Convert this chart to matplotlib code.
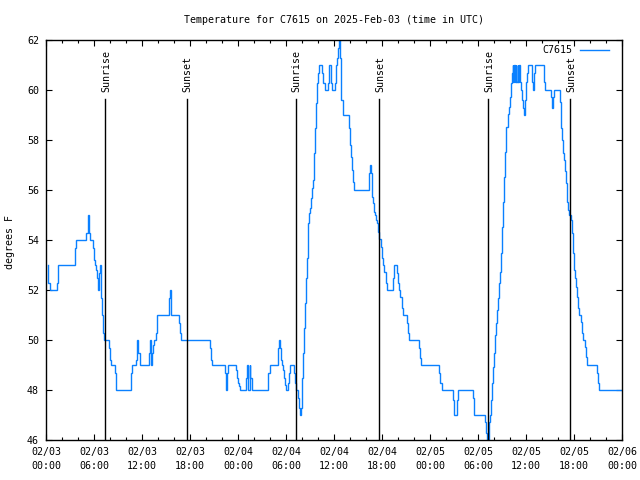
import matplotlib
matplotlib.use("Agg")
import matplotlib.pyplot as plt
from matplotlib.ticker import FixedLocator, MultipleLocator

# ---------------- data (hours since 2025-02-03 00:00 UTC, degrees F) ----------------
hours = [
    0.2, 0.3, 0.5, 1.35, 1.5, 3.6, 3.75, 5.04, 5.2, 5.3, 5.37, 5.43, 5.5, 5.9, 6.04, 6.12,
    6.25, 6.37, 6.46, 6.54, 6.62, 6.75, 6.82, 6.92, 7.05, 7.15, 7.25,
    7.85, 8.0, 8.08, 8.6, 8.7, 8.8,
    10.58, 10.7, 11.25, 11.4, 11.55, 11.7,
    12.875, 12.95, 13.1, 13.2, 13.35, 13.5, 13.7, 13.85,
    15.33, 15.42, 15.5, 15.58, 15.67,
    16.58, 16.7, 16.83,
    20.54, 20.62, 20.7,
    22.375, 22.45, 22.5, 22.58, 22.67, 22.75,
    23.8, 23.9, 24.0, 24.1, 24.25,
    25.0, 25.1, 25.2, 25.45, 25.55, 25.7,
    27.8, 27.95,
    29.04, 29.1, 29.3, 29.4, 29.5, 29.6, 29.7, 29.85, 30.0, 30.3, 30.4, 30.5, 31.0, 31.1, 31.25,
    31.54, 31.62, 31.7, 31.875, 31.95, 32.04, 32.125, 32.25, 32.375, 32.46, 32.58, 32.7, 32.79,
    32.92, 33.0, 33.125, 33.29, 33.42,
    33.54, 33.67, 33.79, 33.92, 34.04, 34.17, 34.54, 34.67, 34.83, 35.29, 35.42, 35.58, 35.67,
    35.75, 36.125, 36.21, 36.29, 36.42, 36.5, 36.58, 36.75, 36.83, 36.92, 37.17,
    37.875, 38.0, 38.125, 38.25, 38.4, 38.55,
    40.42, 40.5, 40.6, 40.7, 40.79, 40.92, 41.04, 41.17, 41.3, 41.42, 41.54, 41.67, 41.85, 42.0,
    42.1, 42.3, 42.45, 42.6,
    43.42, 43.55, 43.9, 44.0, 44.1, 44.3, 44.45, 44.55, 44.67,
    45.125, 45.25, 45.4,
    46.67, 46.8, 46.9,
    49.17, 49.3, 49.45,
    50.92, 51.05, 51.42, 51.55,
    53.42, 53.54,
    54.92, 55.0, 55.08, 55.33, 55.42, 55.5, 55.625, 55.75, 55.92, 56.04, 56.17, 56.29, 56.375,
    56.5, 56.62, 56.75, 56.875, 57.0, 57.125, 57.29, 57.42, 57.54, 57.71, 57.92, 58.04, 58.125,
    58.25, 58.33, 58.4, 58.54, 58.6, 58.75, 58.8, 58.96, 59.02, 59.17, 59.23, 59.375, 59.5,
    59.67, 59.79, 59.92, 60.0, 60.1, 60.29, 60.71, 60.8, 60.92, 61.0, 61.125, 62.2, 62.3, 62.42,
    63.125, 63.25, 63.4, 63.5, 64.25, 64.375, 64.5, 64.67, 64.79, 64.92, 65.04, 65.17, 65.29,
    65.42, 65.625, 65.79, 65.92, 66.04, 66.17, 66.29, 66.42, 66.54, 66.67, 66.875, 67.0, 67.17,
    67.375, 67.5, 67.625, 68.92, 69.0, 69.125, 71.9,
]
temps_f = [
    53, 52.3, 52, 52.3, 53, 53.7, 54, 54.3, 54.7, 55, 54.7, 54.3, 54, 53.7, 53.2, 53,
    52.8, 52.5, 52.2, 52, 52.7, 53, 52.5, 51.7, 51, 50.3, 50,
    49.7, 49.2, 49, 48.7, 48.4, 48,
    48.7, 49, 49.2, 50, 49.5, 49,
    49.5, 50, 49, 49.5, 49.8, 50, 50.3, 51,
    51.3, 51.7, 52, 51.3, 51,
    50.7, 50.3, 50,
    49.7, 49.2, 49,
    48.7, 48.3, 48, 48.3, 48.7, 49,
    48.8, 48.5, 48.3, 48.16, 48,
    48.5, 49, 48, 49, 48.5, 48,
    48.7, 49,
    49.7, 50, 49.7, 49.2, 49, 48.8, 48.5, 48.2, 48, 48.3, 48.7, 49, 48.7, 48.3, 48,
    47.7, 47.3, 47, 47.3, 47.7, 48.5, 49.5, 50.5, 51.5, 52.5, 53.3, 54, 54.7,
    55.07, 55.3, 55.7, 56.1, 56.4,
    57.5, 58.5, 59.5, 60.3, 60.7, 61, 60.7, 60.3, 60, 60.3, 61, 60.7, 60.3,
    60, 60.3, 60.7, 61, 61.3, 61.7, 62.1, 61.3, 60.4, 59.6, 59,
    58.5, 57.8, 57.33, 56.8, 56.33, 56,
    56.67, 57, 56.67, 56, 55.73, 55.47, 55.13, 55, 54.8, 54.67, 54.33, 54.03, 53.73, 53.27,
    53, 52.73, 52.27, 52,
    52.5, 53, 52.67, 52.27, 52, 51.73, 51.5, 51.27, 51,
    50.7, 50.27, 50,
    49.67, 49.27, 49,
    48.67, 48.27, 48,
    47.6, 47, 47.6, 48,
    47.67, 47,
    46.73, 46.27, 46, 46.27, 46.73, 47, 47.6, 48.27, 48.93, 49.5, 50.2, 50.7, 51.2,
    51.67, 52.27, 52.73, 53.47, 54.53, 55.53, 56.53, 57.53, 58.53, 59.04, 59.33, 59.73, 60.27,
    60.67, 61, 60.33, 61, 60.33, 61, 60.33, 61, 60.33, 61, 60.33, 60, 59.6,
    59.3, 59, 59.6, 60.33, 60.67, 61, 60.67, 60.33, 60, 60.67, 61, 60.67, 60.33, 60,
    59.73, 59.3, 59.73, 60, 59.53, 58.47, 58, 57.47, 57.2, 56.75, 56.27, 55.53, 55.2,
    55, 54.8, 54.27, 53.47, 52.8, 52.47, 52.13, 51.73, 51.27, 51, 50.73, 50.27, 50,
    49.73, 49.33, 49, 48.67, 48.27, 48, 48,
]

sun_event_hours = [7.4, 17.625, 31.25, 41.67, 55.29, 65.54]
sun_event_labels = ["Sunrise", "Sunset", "Sunrise", "Sunset", "Sunrise", "Sunset"]

xtick_hours = [0, 6, 12, 18, 24, 30, 36, 42, 48, 54, 60, 66, 72]
xtick_labels = [
    "02/03\n00:00", "02/03\n06:00", "02/03\n12:00", "02/03\n18:00",
    "02/04\n00:00", "02/04\n06:00", "02/04\n12:00", "02/04\n18:00",
    "02/05\n00:00", "02/05\n06:00", "02/05\n12:00", "02/05\n18:00",
    "02/06\n00:00",
]
yticks = [46, 48, 50, 52, 54, 56, 58, 60, 62]

title = "Temperature for C7615 on 2025-Feb-03 (time in UTC)"
series_name = "C7615"
ylabel = "degrees F"

# ---------------- drawing ----------------
FONT = "DejaVu Sans Mono"
FS = 7.2
plt.rcParams["font.family"] = FONT
plt.rcParams["font.size"] = FS

fig = plt.figure(figsize=(6.4, 4.8), dpi=100)
ax = fig.add_axes([46 / 640, 40 / 480, 576 / 640, 400 / 480])

ax.plot(hours, temps_f, color="#0a80ff", lw=1.0, drawstyle="steps-post",
        label=series_name, solid_joinstyle="miter", clip_on=True)

line_top = 59.64
for h, lab in zip(sun_event_hours, sun_event_labels):
    ax.plot([h, h], [46, line_top], color="black", lw=1.0)
    ax.text(h + 0.1, 59.92, lab, rotation=90, ha="center", va="bottom",
            fontsize=FS, family=FONT)

ax.set_xlim(0, 72)
ax.set_ylim(46, 62)
ax.xaxis.set_major_locator(FixedLocator(xtick_hours))
ax.set_xticklabels(xtick_labels, linespacing=1.45)
ax.xaxis.set_minor_locator(MultipleLocator(2))
ax.set_yticks(yticks)
ax.set_yticklabels([str(v) for v in yticks])

ax.tick_params(axis="both", which="major", direction="in", length=4, width=0.8,
               top=True, right=True, labelsize=FS, pad=4, colors="black")
ax.tick_params(axis="x", which="minor", direction="in", length=2.2, width=0.8,
               top=True, bottom=True)
ax.tick_params(axis="y", which="major", pad=5)
ax.tick_params(axis="x", which="major", pad=5)
for s in ax.spines.values():
    s.set_linewidth(1.0)
    s.set_color("black")

leg = ax.legend(loc="upper right", frameon=False, markerfirst=False,
                handlelength=2.9, handletextpad=0.7, borderaxespad=0.25,
                bbox_to_anchor=(1 - 7 / 576, 1 + 1 / 400), fontsize=FS)

fig.text(334 / 640, 1 - 20 / 480, title, ha="center", va="center", fontsize=FS)
fig.text(10 / 640, 1 - 242 / 480, ylabel, ha="center", va="center",
         rotation=90, fontsize=FS)

fig.savefig("out.png", dpi=100)
